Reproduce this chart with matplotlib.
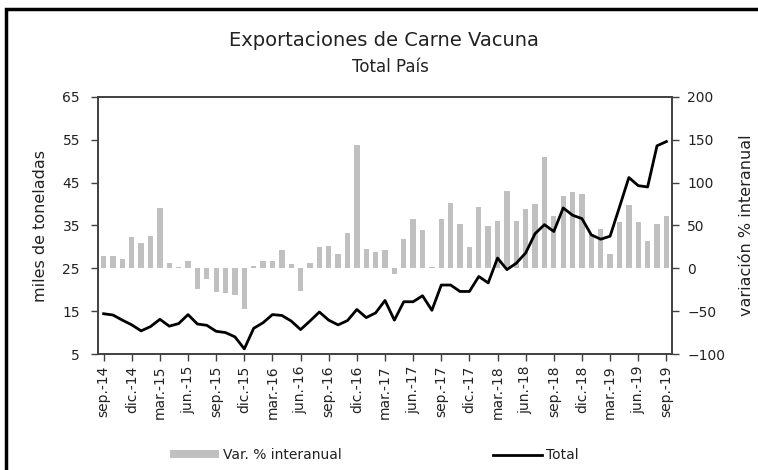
import numpy as np
import matplotlib.pyplot as plt
from matplotlib.patches import Rectangle, Patch
from matplotlib.lines import Line2D

plt.rcParams['font.family'] = 'DejaVu Sans'

# meses desde sep-14 hasta sep-19
meses = ['ene.', 'feb.', 'mar.', 'abr.', 'may.', 'jun.',
         'jul.', 'ago.', 'sep.', 'oct.', 'nov.', 'dic.']
inicio_mes = 8      # sep
inicio_anio = 14

# miles de toneladas, total pais
total = [14.4, 14.1, 12.9, 11.8, 10.4, 11.4, 13.1, 11.5, 12.1, 14.2,
         12.0, 11.7, 10.3, 10.0, 9.0, 6.2, 11.0, 12.3, 14.2, 14.0,
         12.7, 10.7, 12.7, 14.8, 12.9, 11.8, 12.8, 15.4, 13.5, 14.6,
         17.5, 12.9, 17.2, 17.2, 18.6, 15.2, 21.1, 21.1, 19.6, 19.6,
         23.1, 21.6, 27.4, 24.7, 26.2, 28.6, 33.1, 35.2, 33.6, 39.1,
         37.4, 36.6, 32.8, 31.8, 32.5, 39.3, 46.2, 44.3, 44.0, 53.6,
         54.6]

# variacion % interanual
var = [14, 14, 11, 37, 29, 38, 71, 6, 1, 9,
       -24, -12, -28, -29, -31, -47, 3, 9, 9, 21,
       5, -26, 6, 25, 26, 17, 41, 144, 23, 19,
       21, -7, 34, 58, 45, 1.5, 58, 76, 52, 25,
       72, 49, 55, 90, 55, 69, 75, 130, 61, 84,
       89, 87, 40, 46, 17, 54, 74, 54, 32, 52,
       61]

n = len(total)
x = np.arange(n)
etiquetas = []
for i in range(n):
    m = (inicio_mes + i) % 12
    a = inicio_anio + (inicio_mes + i) // 12
    etiquetas.append(meses[m] + '-' + str(a))

gris = '#c0c0c0'
borde = '#404040'
texto = '#222222'

fig = plt.figure(figsize=(7.58, 4.70), dpi=100)
ax = fig.add_axes([98/758, 1-354/470, (672-98)/758, (354-97)/470])
ax2 = ax.twinx()

# barras en eje derecho, linea en eje izquierdo
ax2.bar(x, var, width=0.57, color=gris, zorder=1)
ax.plot(x, total, color='black', lw=2, zorder=3)
ax.set_zorder(ax2.get_zorder() + 1)
ax.patch.set_visible(False)

ax.set_xlim(-0.6, n - 0.4)
ax.set_ylim(5, 65)
ax.set_yticks(np.arange(5, 66, 10))
ax2.set_ylim(-100, 200)
ax2.set_yticks(np.arange(-100, 201, 50))

ax.set_xticks(x[::3])
ax.set_xticklabels(etiquetas[::3], rotation=90, fontsize=10.5, color=texto)

for a in (ax, ax2):
    for s in a.spines.values():
        s.set_color(borde)
        s.set_linewidth(1.2)
    a.tick_params(colors=borde, labelcolor=texto, labelsize=10, length=5, width=1)
ax.tick_params(axis='y', pad=8)
ax2.tick_params(axis='y', pad=6)

ax.set_ylabel('miles de toneladas', fontsize=11.5, color=texto, labelpad=10)
ax2.set_ylabel('variación % interanual', fontsize=11.5, color=texto, labelpad=10)

fig.text(0.506, 1-40/470, 'Exportaciones de Carne Vacuna', ha='center', va='center',
         fontsize=14, color=texto)
fig.text(0.515, 1-67/470, 'Total País', ha='center', va='center',
         fontsize=12, color=texto)

handles = [Patch(facecolor=gris, edgecolor='none', label='Var. % interanual'),
           Line2D([], [], color='black', lw=2, label='Total')]
fig.legend(handles=handles, loc='center', bbox_to_anchor=(0.494, 1-455/470), ncol=2,
           frameon=False, fontsize=10, handlelength=3.5, handleheight=0.45,
           handletextpad=0.3, columnspacing=10.9, labelcolor=texto)

# marco de la figura
fig.patches.append(Rectangle((6/758, -0.05), 1.05, 1.05 - 9/470,
                             transform=fig.transFigure, fill=False,
                             edgecolor='black', lw=2.5))

fig.savefig('out.png', dpi=100)
